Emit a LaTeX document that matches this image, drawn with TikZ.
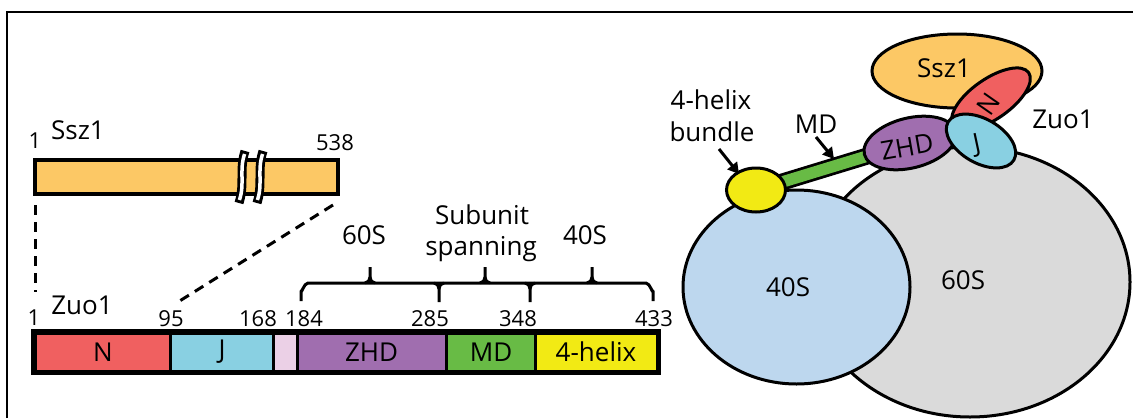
\documentclass[tikz,border=0pt]{standalone}
\usepackage{fontspec}
\setmainfont{Open Sans}
\usetikzlibrary{shapes.geometric,arrows.meta}

\pgfdeclarelayer{back}
\pgfdeclarelayer{mid}
\pgfsetlayers{back,mid,main}

\definecolor{sszc}{RGB}{252,200,101}
\definecolor{nc}{RGB}{240,96,96}
\definecolor{jc}{RGB}{137,208,226}
\definecolor{linkc}{RGB}{235,208,230}
\definecolor{zhdc}{RGB}{160,110,175}
\definecolor{mdc}{RGB}{104,187,69}
\definecolor{hxc}{RGB}{242,234,20}
\definecolor{smallc}{RGB}{189,215,238}
\definecolor{largec}{RGB}{218,218,218}

\tikzset{
  txt/.style={font=\fontsize{26}{30}\selectfont},
  lbl/.style={inner sep=0pt, txt},
  num/.style={inner sep=0pt, font=\fontsize{22}{25}\selectfont},
  seg/.style={draw, line width=3pt, minimum height=38pt, inner sep=0pt, txt},
  blob/.style={ellipse, draw, line width=3pt, inner sep=0pt, txt},
  zoomline/.style={line width=3pt, dash pattern=on 10pt off 7pt},
  bracket/.style={line width=3pt, line join=round},
  pointer/.style={line width=3pt, -{Triangle[length=11pt,width=12pt]}},
}

\begin{document}
\begin{tikzpicture}[x=1pt,y=-1pt]
\useasboundingbox (0,0) rectangle (1133,418);

% frame
\draw[line width=1.5pt] (7,418) -- (7,12) -- (1133,12);

% ---------- Ssz1 linear map ----------
\node[draw, fill=sszc, line width=4pt, minimum width=303pt, minimum height=34pt,
      inner sep=0pt] (sszbar) at (186.5,177) {};
% break marks
\foreach \bx in {242,260}{
  \draw[line width=9pt] (\bx+3,151) .. controls (\bx-3,170) and (\bx+3,184) .. (\bx-3,203);
  \draw[white, line width=3.5pt] (\bx+2.6,154) .. controls (\bx-3,170) and (\bx+3,184) .. (\bx-2.6,200);
}
\node[num] (s1) at (35,141) {1};
\node[lbl] (sname) at (78,130) {Ssz1};
\node[num] (s538) at (335,143) {538};

% ---------- Zuo1 linear map ----------
\node[seg, fill=nc,    minimum width=136pt] (segN)   at (103,352) {N};
\node[seg, fill=jc,    minimum width=103pt] (segJ)   at (222,352) {J};
\node[seg, fill=linkc, minimum width=24pt]  (segL)   at (285.5,352) {};
\node[seg, fill=zhdc,  minimum width=149pt] (segZ)   at (371.5,352) {ZHD};
\node[seg, fill=mdc,   minimum width=90pt]  (segM)   at (491,352) {MD};
\node[seg, fill=hxc,   minimum width=122pt] (segH)   at (596,352) {4-helix};
\draw[line width=4.5pt] (segN.north west) rectangle (segH.south east);

\node[num] (z1) at (34,318) {1};
\node[lbl] (zname) at (82,305) {Zuo1};
\node[num] (z95) at (171,319) {95};
\node[num] (z168) at (258,319) {168};
\node[num] (z184) at (304,319) {184};
\node[num] (z285) at (430,319) {285};
\node[num] (z348) at (518,319) {348};
\node[num] (z433) at (654,319) {433};

% zoom lines from Ssz1 to Zuo1
\coordinate (vtop) at (35,205);
\coordinate (vbot) at (35,292);
\draw[zoomline] (vtop) -- (vbot);
\coordinate (dtop) at (333,205);
\coordinate (dbot) at (178,302);
\draw[zoomline] (dtop) -- (dbot);

% domain brackets
\draw[bracket] (301,301) -- (301,291) to[out=-90,in=180] (308,283) -- (646,283)
               to[out=0,in=-90] (653,291) -- (653,301);
\foreach \tx in {370,485,592}{
  \draw[bracket] (\tx-5,283) to[out=0,in=-90] (\tx,277) -- (\tx,267);
  \draw[bracket] (\tx+5,283) to[out=180,in=-90] (\tx,277);
}
\foreach \tx in {439,530}{
  \draw[bracket] (\tx-5,283) to[out=0,in=90] (\tx,289) -- (\tx,302);
  \draw[bracket] (\tx+5,283) to[out=180,in=90] (\tx,289);
}
\node[lbl] (b60) at (364,235) {60S};
\node[lbl] (bsub) at (482,215) {Subunit};
\node[lbl] (bspan) at (481,249) {spanning};
\node[lbl] (b40) at (585,235) {40S};

% ---------- ribosome-bound complex ----------
\begin{pgfonlayer}{back}
\node[blob, fill=largec, minimum width=320pt, minimum height=270pt] (large) at (970,282) {};
\node[blob, fill=smallc, minimum width=227pt, minimum height=194pt] (small) at (796.5,287) {};
\end{pgfonlayer}
\node[lbl] (lsmall) at (788,287) {40S};
\node[lbl] (llarge) at (963,280) {60S};

\node[blob, fill=hxc, minimum width=59pt, minimum height=44pt] (helix) at (756,190) {};
\node[blob, fill=sszc, minimum width=170pt, minimum height=74pt] (ssz) at (957,71) {};
\node[lbl] (lssz) at (944,68) {Ssz1};
\node[blob, fill=zhdc, minimum width=94pt, minimum height=50pt, rotate=14] (zhd) at (910,143) {};
\node[lbl, rotate=10] (lzhd) at (907,147) {ZHD};
\node[blob, fill=nc, minimum width=92pt, minimum height=40pt, rotate=35] (nd) at (991,99) {};
\node[lbl, rotate=55] (lnd) at (989,104) {N};
\node[blob, fill=jc, minimum width=76pt, minimum height=44pt, rotate=-30] (jd) at (981,141) {};
\node[lbl, rotate=12] (ljd) at (977,145) {J};

% middle domain linking the 4-helix bundle to the ZHD
\begin{pgfonlayer}{mid}
\draw[line width=17pt] (helix.center) -- (zhd.center);
\draw[mdc, line width=11.5pt] (helix.center) -- (zhd.center);
\end{pgfonlayer}

\node[lbl] (lzuo) at (1063,119) {Zuo1};
\node[lbl] (lhx1) at (711,100) {4-helix};
\node[lbl] (lhx2) at (712,132) {bundle};
\node[lbl] (lmd) at (816,124) {MD};

\coordinate (ahs) at (719,149);
\coordinate (ahe) at (739,174);
\draw[pointer] (ahs) -- (ahe);
\coordinate (ams) at (816,137);
\coordinate (ame) at (834,159);
\draw[pointer] (ams) -- (ame);
\end{tikzpicture}
\end{document}
